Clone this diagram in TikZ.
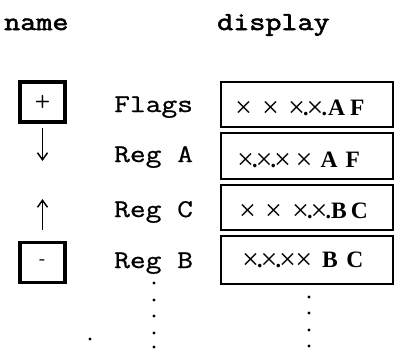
\documentclass[tikz,border=0pt]{standalone}
\usepackage{fontspec}
\setmainfont{Liberation Serif}
\newfontfamily\mono[FakeStretch=1.2,FakeBold=0.8]{Latin Modern Mono}
\newfontfamily\monob[FakeStretch=1.2,FakeBold=2.2]{Latin Modern Mono}
\usetikzlibrary{arrows.meta}
\tikzset{
  lab/.style={font=\mono\fontsize{25.5}{30}\selectfont, anchor=base west, inner sep=0pt},
  head/.style={font=\monob\fontsize{26}{30}\selectfont, anchor=base west, inner sep=0pt},
  disp/.style={font=\fontsize{22}{26}\selectfont, anchor=base west, inner sep=0pt},
  keybox/.style={draw, line width=3.6pt, minimum width=45pt, minimum height=40pt, inner sep=0pt, font=\sffamily\bfseries\fontsize{18}{18}\selectfont},
  dbox/.style={draw, line width=2.4pt, anchor=north west, inner sep=0pt},
  arr/.style={-{Straight Barb[length=7pt,width=10pt,line width=1.5pt]}, line width=1.9pt},
  dot/.style={circle, fill, inner sep=0pt, minimum size=3.4pt}
}
\newcommand{\xx}{\makebox[13pt]{\raisebox{-2pt}{\fontsize{30}{30}\selectfont ×}}}
\newcommand{\bd}{\textbf{.}}
\newcommand{\bl}[1]{{\fontsize{23.5}{26}\selectfont\bfseries #1}}
\begin{document}
\begin{tikzpicture}[x=1pt,y=-1pt]
\useasboundingbox (0,0) rectangle (394,349);
% headings
\node[head] (hname) at (4,30) {name};
\node[head] (hdisp) at (217,30) {display};
% key boxes
\node[keybox] (plus) at (42.5,102) {+};
\node[keybox] (minus) at (42.5,262.5) {-};
\coordinate (dA) at (42.5,161);
\coordinate (uC) at (42.5,199);
\draw[arr, shorten <=4pt] (plus.south) -- (dA);
\draw[arr, shorten <=11pt] (minus.north) -- (uC);
% labels
\node[lab] (lf) at (114,112) {Flags};
\node[lab] (la) at (114,162) {Reg A};
\node[lab] (lc) at (114,217) {Reg C};
\node[lab] (lb) at (114,268) {Reg B};
% display boxes
\node[dbox, minimum width=172pt, minimum height=45pt] (d1) at (220,81) {};
\node[dbox, minimum width=172pt, minimum height=46pt] (d2) at (220,132) {};
\node[dbox, minimum width=172pt, minimum height=45pt] (d3) at (220,184) {};
\node[dbox, minimum width=172pt, minimum height=48pt] (d4) at (220,235) {};
\node[disp] (t1) at (237,115) {\xx\hspace{14pt}\xx\hspace{13pt}\xx\bd\xx\bd\hspace{1pt}\bl{A}\hspace{5pt}\bl{F}};
\node[disp] (t2) at (239,167) {\xx\bd\xx\bd\xx\hspace{8.5pt}\xx\hspace{10pt}\bl{A}\hspace{8pt}\bl{F}};
\node[disp] (t3) at (241,218) {\xx\hspace{13pt}\xx\hspace{14pt}\xx\bd\xx\bd\bl{B}\hspace{4pt}\bl{C}};
\node[disp] (t4) at (244,267) {\xx\bd\xx\bd\xx\hspace{3pt}\xx\hspace{12pt}\bl{B}\hspace{8.5pt}\bl{C}};
% dots
\foreach \y [count=\i] in {283,300,316,333,347} \node[dot] (ld\i) at (154,\y) {};
\foreach \y [count=\i] in {297,313,330,346} \node[dot] (rd\i) at (309,\y) {};
\node[dot] (stray) at (90,339) {};
\end{tikzpicture}
\end{document}
